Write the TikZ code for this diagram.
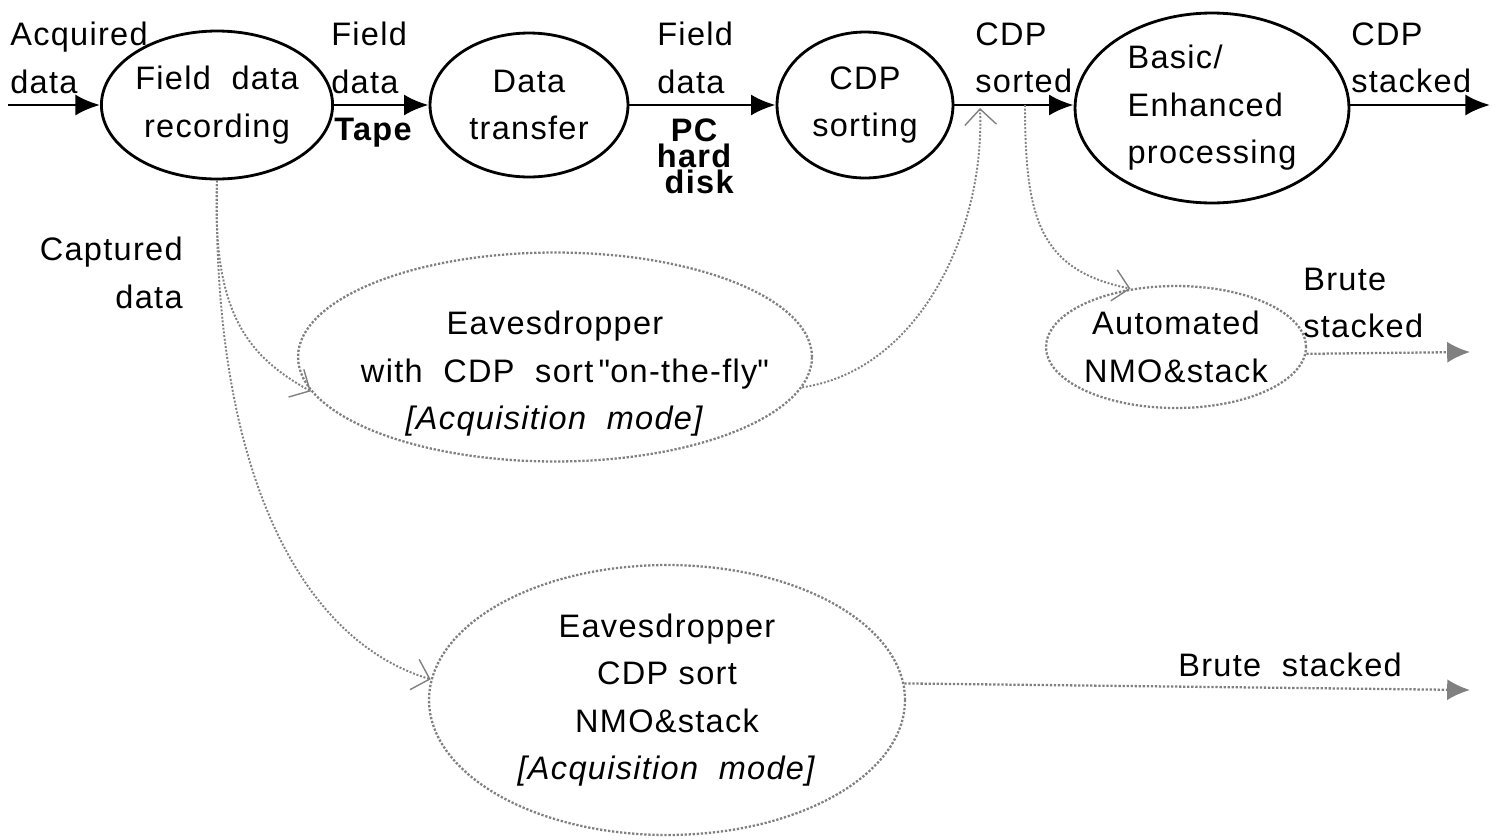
\documentclass[tikz,border=0pt]{standalone}
\usepackage{fontspec}
\setmainfont{Liberation Sans}[LetterSpace=4]
\usetikzlibrary{arrows.meta,shapes,positioning}
\tikzstyle{stage}=[ellipse,draw,line width=1.6pt,inner sep=0pt,align=center]
\tikzstyle{eaves}=[ellipse,draw=gray,densely dotted,line width=1.3pt,inner sep=0pt,align=center]
\tikzstyle{flow}=[draw,line width=1.6pt,-{Latex[length=14pt,width=12pt]}]
\tikzstyle{tap}=[draw=gray,densely dotted,line width=1.1pt,-{Straight Barb[length=9pt,width=18pt,line width=0.8pt]}]
\tikzstyle{brute}=[draw=gray,densely dotted,line width=1.3pt,-{Latex[length=13pt,width=12pt,fill=gray]}]
\tikzstyle{lbl}=[inner sep=0pt]

\begin{document}
\begin{tikzpicture}[x=0.02cm,y=-0.02cm,
  every node/.style={font=\fontsize{18.5}{27}\selectfont}]

\useasboundingbox (0,0) rectangle (1497,839);

% % % % % % main chain % % % % % %
\node[stage,minimum width=4.44cm,minimum height=2.96cm] (rec) at (217,105) {Field\ \ data\\recording};
\node[stage,minimum width=3.96cm,minimum height=2.88cm] (xfer) at (529,105) {Data\\transfer};
\node[stage,minimum width=3.52cm,minimum height=2.92cm] (sort) at (865,105) {CDP\\sorting};
\node[stage,minimum width=5.48cm,minimum height=3.8cm,align=left] (proc) at (1212,108) {Basic/\\Enhanced\\processing};

\coordinate (in) at (8,105);
\coordinate (out) at (1490,105);
\coordinate (tapA) at (980,108);
\coordinate (tapB) at (1025,105);

\draw[flow] (in) -- (rec);
\draw[flow] (rec) -- (xfer);
\draw[flow] (xfer) -- (sort);
\draw[flow] (sort) -- (proc.west |- in);
\draw[flow] (proc.east |- in) -- (out);

% labels on the chain
\node[lbl,align=left,anchor=west] (lacq) at (10,58) {Acquired\\data};
\node[lbl,align=left,anchor=west] (lfd1) at (331,58) {Field\\data};
\node[lbl,anchor=base west,font=\fontsize{18.5}{27}\selectfont\bfseries] (ltape) at (334,140) {Tape};
\node[lbl,align=center,anchor=north,font=\fontsize{18.5}{27}\selectfont\bfseries] (lpc) at (694,118)
  {PC\\[-12pt]hard\\[-12pt]\ disk};
\node[lbl,align=left,anchor=west] (lfd2) at (657,58) {Field\\data};
\node[lbl,align=left,anchor=west] (lsorted) at (975,58) {CDP\\sorted};
\node[lbl,align=left,anchor=west] (lstacked) at (1351,58) {CDP\\stacked};

% % % % % % eavesdropper branch % % % % % %
\node[eaves,minimum width=10.28cm,minimum height=4.18cm,
  label={[align=center,yshift=-0.34cm]center:Eavesdropper\\\hspace*{0.4cm}with\ \ CDP\ \ sort\,\textquotedbl on-the-fly\textquotedbl\\\textit{[Acquisition\ \ mode]}}] (eavesfly) at (555,357) {};
\node[eaves,minimum width=4.96cm,minimum height=2.44cm] (autostack) at (1176,347) {Automated\\NMO\&stack};
\node[eaves,minimum width=9.52cm,minimum height=5.4cm] (eavesstack) at (667,700)
  {Eavesdropper\\CDP sort\\NMO\&stack\\\textit{[Acquisition\ \ mode]}};

\node[lbl,align=right,anchor=east] (lcapt) at (183,273) {Captured\\data};
\node[lbl,align=left,anchor=west] (lbrute1) at (1303,303) {Brute\\stacked};
\node[lbl,anchor=base west] (lbrute2) at (1178,676) {Brute\ \ stacked};

\coordinate (bruteA) at (1470,352);
\coordinate (bruteB) at (1470,690);

\draw[tap] (rec.south) .. controls (212,310) and (245,355) .. (eavesfly.188);
\draw[tap] (rec.south) .. controls (212,470) and (300,640) .. (eavesstack.175);
\draw[tap] (eavesfly.-7) .. controls (920,370) and (985,230) .. (tapA);
\draw[tap] (tapB) .. controls (1025,220) and (1040,270) .. (autostack.128);
\draw[brute] (autostack.-3) -- (bruteA);
\draw[brute] (eavesstack.4) -- (bruteB);

\end{tikzpicture}
\end{document}
